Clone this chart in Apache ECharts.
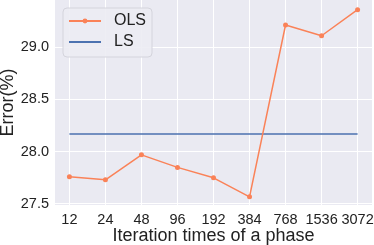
<!DOCTYPE html>
<html>
<head>
<meta charset="utf-8">
<script src="https://cdn.jsdelivr.net/npm/echarts@6/dist/echarts.min.js"></script>
<style>html,body{margin:0;padding:0;background:#fff}#c{width:374px;height:245px}</style>
</head>
<body>
<div id="c"></div>
<script>
var categories = ['12','24','48','96','192','384','768','1536','3072'];
var olsValues = [27.758, 27.729, 27.968, 27.848, 27.748, 27.566, 29.211, 29.108, 29.357];
var lsValue = 28.167;
var yTicks = [27.5, 28.0, 28.5, 29.0];

var idx = categories.map(function(_, i){ return i; });
var olsData = olsValues.map(function(v, i){ return [i, v]; });
var lsData = categories.map(function(_, i){ return [i, lsValue]; });
var gridMarks = idx.map(function(i){ return {xAxis: i}; })
  .concat(yTicks.map(function(v){ return {yAxis: v}; }));

var chart = echarts.init(document.getElementById('c'), null, {renderer:'canvas'});
var font = 'Liberation Sans, Arial, sans-serif';
chart.setOption({
  animation: false,
  grid: {left: 55, right: 2, top: 0, bottom: 40, show: true, backgroundColor: '#EAEAF2', borderWidth: 0,
         containLabel: false, outerBoundsMode: 'none'},
  legend: {
    left: 63, top: 8, orient: 'vertical', z: 10,
    padding: [5, 6, 7, 5],
    itemWidth: 32, itemHeight: 6, itemGap: 5,
    backgroundColor: 'rgba(236,236,243,0.9)',
    borderColor: '#d4d4dc', borderWidth: 1, borderRadius: 4,
    textStyle: {fontFamily: font, fontSize: 16, color: '#222', lineHeight: 16, padding: [0,0,0,8]},
    data: [{name: 'OLS'}, {name: 'LS', itemStyle: {color: 'rgba(0,0,0,0)', borderWidth: 0}}]
  },
  xAxis: {
    type: 'value', min: -0.4, max: 8.4,
    name: 'Iteration times of a phase', nameLocation: 'middle', nameGap: 22, nameMoveOverlap: false,
    nameTextStyle: {fontFamily: font, fontSize: 18, color: '#222'},
    axisLine: {show: false}, axisTick: {show: false, customValues: idx},
    axisLabel: {customValues: idx, fontFamily: font, fontSize: 14.5, color: '#222', margin: 7,
      formatter: function(v){ return categories[Math.round(v)]; }},
    splitLine: {show: false}
  },
  yAxis: {
    type: 'value', min: 27.488, max: 29.45,
    name: 'Error(%)', nameLocation: 'middle', nameGap: 38, nameRotate: 90, nameMoveOverlap: false,
    nameTextStyle: {fontFamily: font, fontSize: 18, color: '#222'},
    axisLine: {show: false}, axisTick: {show: false, customValues: yTicks},
    axisLabel: {customValues: yTicks, fontFamily: font, fontSize: 14.5, color: '#222', margin: 6,
      formatter: function(v){ return v.toFixed(1); }},
    splitLine: {show: false}
  },
  series: [
    {name: 'grid', type: 'line', data: [], z: 0, silent: true,
     markLine: {silent: true, z: 0, symbol: 'none', label: {show: false}, animation: false,
       lineStyle: {color: '#ffffff', width: 1, type: 'solid'}, emphasis: {disabled: true},
       data: gridMarks}},
    {name: 'OLS', type: 'line', data: olsData, color: '#FA8258', z: 3,
     lineStyle: {width: 1.5, color: '#FA8258'}, symbol: 'circle', symbolSize: 5,
     itemStyle: {color: '#FA8258'}},
    {name: 'LS', type: 'line', data: lsData, color: '#4C72B0', z: 2,
     lineStyle: {width: 1.5, color: '#4C72B0'}, symbol: 'none', showSymbol: false}
  ]
});
</script>
</body>
</html>
